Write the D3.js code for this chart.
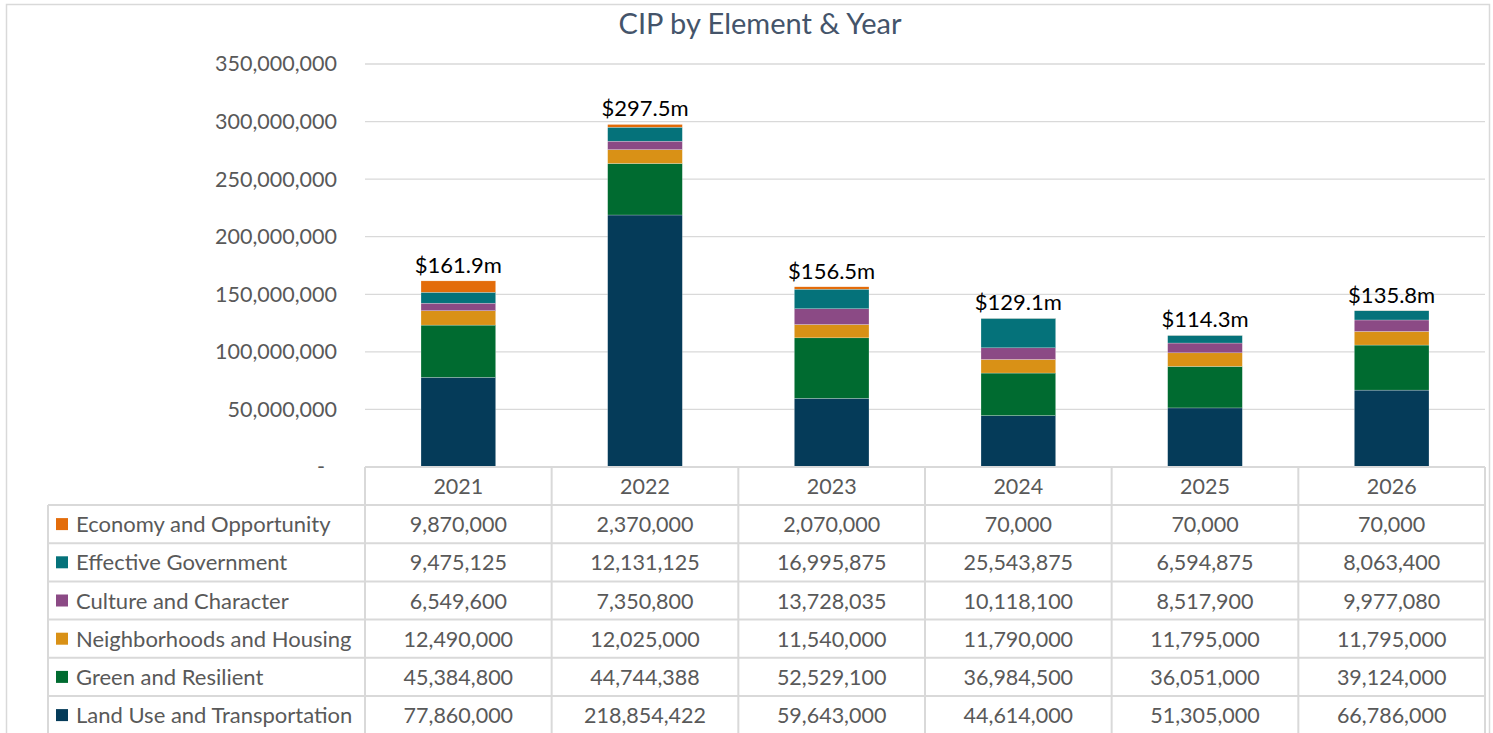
<!DOCTYPE html>
<html><head><meta charset="utf-8">
<script src="https://cdn.jsdelivr.net/npm/d3@7"></script>
<style>body{margin:0;background:#fff}svg{display:block;font-family:Lato,"Open Sans",sans-serif}</style>
</head><body><svg id="c" width="1493" height="733"></svg>
<script>
const years = ["2021","2022","2023","2024","2025","2026"];
const seriesNames = ["Land Use and Transportation","Green and Resilient","Neighborhoods and Housing","Culture and Character","Effective Government","Economy and Opportunity"];
const landUse = [77860000,218854422,59643000,44614000,51305000,66786000];
const green = [45384800,44744388,52529100,36984500,36051000,39124000];
const neighborhoods = [12490000,12025000,11540000,11790000,11795000,11795000];
const culture = [6549600,7350800,13728035,10118100,8517900,9977080];
const effective = [9475125,12131125,16995875,25543875,6594875,8063400];
const economy = [9870000,2370000,2070000,70000,70000,70000];
const totalLabels = ["$161.9m","$297.5m","$156.5m","$129.1m","$114.3m","$135.8m"];
const yTicks = [0,50000000,100000000,150000000,200000000,250000000,300000000,350000000];
const colors = ["#053B59","#006B30","#D99116","#8B4A85","#05727A","#E36C0A"];
const seriesValues = [landUse,green,neighborhoods,culture,effective,economy];

const svg = d3.select("#c");
const W=1493,H=733;
const plotL=365, plotR=1485, plotT=64, plotB=467;
svg.append("rect").attr("x",6.5).attr("y",4.5).attr("width",W-10).attr("height",H).attr("fill","none").attr("stroke","#d9d9d9").attr("stroke-width",1.5);
svg.append("text").attr("x",760).attr("y",34).attr("text-anchor","middle").attr("font-size",29).attr("fill","#44546A").text("CIP by Element & Year");

const x = d3.scaleBand().domain(years).range([plotL,plotR]).paddingInner(0.6).paddingOuter(0.3);
const xCol = d3.scaleBand().domain(years).range([plotL,plotR]);
const y = d3.scaleLinear().domain([0,350000000]).range([plotB,plotT]);

const fmt = d3.format(",");
svg.append("g").selectAll("line").data(yTicks.filter(d=>d>0)).join("line")
  .attr("x1",plotL).attr("x2",plotR).attr("y1",d=>y(d)).attr("y2",d=>y(d))
  .attr("stroke","#d9d9d9").attr("stroke-width",1.3);
const yAxis = d3.axisLeft(y).tickValues(yTicks).tickSize(0).tickPadding(0).tickFormat(d=>d===0?"-":fmt(d));
const ga = svg.append("g").attr("transform",`translate(${plotL-28},0)`).call(yAxis);
ga.select(".domain").remove();
ga.selectAll("text").attr("font-size",21.5).attr("fill","#595959").attr("font-family","Lato,'Open Sans',sans-serif");
ga.selectAll(".tick").filter(d=>d===0).select("text").attr("dx",-12);

const table = years.map((yr,i)=>{const o={year:yr}; seriesNames.forEach((s,k)=>o[s]=seriesValues[k][i]); return o;});
const stack = d3.stack().keys(seriesNames)(table);
svg.append("g").selectAll("g").data(stack).join("g").attr("fill",(d,i)=>colors[i])
  .selectAll("rect").data(d=>d).join("rect")
  .attr("x",d=>x(d.data.year)).attr("width",x.bandwidth())
  .attr("y",d=>y(d[1])).attr("height",d=>y(d[0])-y(d[1]))
  .attr("stroke","#ffffff").attr("stroke-width",0.4).attr("stroke-opacity",0.6);
const totals = years.map((yr,i)=>d3.sum(seriesValues,s=>s[i]));
svg.append("g").selectAll("text").data(years).join("text")
  .attr("x",d=>x(d)+x.bandwidth()/2).attr("y",(d,i)=>y(totals[i])-8)
  .attr("text-anchor","middle").attr("font-size",22).attr("fill","#000").text((d,i)=>totalLabels[i]);

const legL=48, rowH=38.2, headT=plotB, headH=38;
const order = [5,4,3,2,1,0];
const g = svg.append("g");
const lineC="#d9d9d9";
g.append("line").attr("x1",plotL).attr("x2",plotR).attr("y1",headT).attr("y2",headT).attr("stroke",lineC).attr("stroke-width",2);
const rowTop = i=>headT+headH+i*rowH;
for(let i=0;i<=6;i++){
  g.append("line").attr("x1",legL).attr("x2",plotR).attr("y1",rowTop(i)).attr("y2",rowTop(i)).attr("stroke",lineC).attr("stroke-width",2);
}
[plotL].concat(years.map(d=>xCol(d)+xCol.bandwidth())).forEach(v=>{
  g.append("line").attr("x1",v).attr("x2",v).attr("y1",headT).attr("y2",H).attr("stroke",lineC).attr("stroke-width",2);
});
g.append("line").attr("x1",legL).attr("x2",legL).attr("y1",rowTop(0)).attr("y2",H).attr("stroke",lineC).attr("stroke-width",2);
g.selectAll("text.hd").data(years).join("text").attr("class","hd")
  .attr("x",d=>xCol(d)+xCol.bandwidth()/2).attr("y",headT+headH/2+8)
  .attr("text-anchor","middle").attr("font-size",21.5).attr("fill","#595959").text(d=>d);
order.forEach((k,r)=>{
  const cy = rowTop(r)+rowH/2;
  g.append("rect").attr("x",56).attr("y",cy-6).attr("width",12).attr("height",12).attr("fill",colors[k]);
  g.append("text").attr("x",76).attr("y",cy+8).attr("font-size",22).attr("fill","#595959").text(seriesNames[k]);
  years.forEach((yr,i)=>{
    g.append("text").attr("x",xCol(yr)+xCol.bandwidth()/2).attr("y",cy+8).attr("text-anchor","middle")
      .attr("font-size",21.5).attr("fill","#595959").text(fmt(seriesValues[k][i]));
  });
});
</script></body></html>
